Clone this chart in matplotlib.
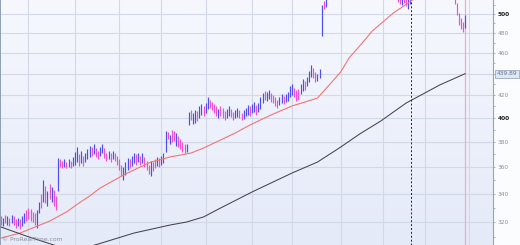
import numpy as np
import matplotlib
matplotlib.use('Agg')
import matplotlib.pyplot as plt
from matplotlib.colors import LinearSegmentedColormap
from matplotlib.ticker import FixedLocator, NullFormatter, FuncFormatter
import matplotlib.transforms as mtransforms

# daily bars: high, low, up(u)/down(d)
highs = [324, 323, 325, 324, 323, 325, 324, 322, 323, 322, 324, 326, 328, 330, 329, 327, 326, 328, 334, 340,
         350, 346, 342, 347, 345, 343, 338, 367, 366, 365, 366, 364, 366, 365, 368, 372, 376, 370, 373, 369,
         371, 374, 377, 376, 378, 375, 373, 376, 378, 375, 371, 373, 371, 373, 371, 369, 366, 362, 360, 364,
         367, 366, 369, 371, 370, 371, 369, 371, 368, 365, 362, 365, 364, 366, 368, 367, 369, 371, 389, 388,
         386, 390, 389, 387, 385, 382, 380, 378, 378, 405, 407, 404, 407, 406, 410, 412, 410, 413, 418, 416,
         414, 412, 410, 408, 410, 409, 406, 408, 410, 408, 405, 407, 409, 407, 404, 407, 409, 411, 410, 412,
         414, 411, 413, 418, 422, 424, 423, 425, 422, 420, 418, 416, 418, 421, 419, 421, 423, 428, 430, 427,
         425, 426, 430, 435, 433, 437, 442, 448, 445, 441, 440, 444, 510, 514, 518, 526, 530, 533, 536, 534,
         538, 541, 539, 542, 545, 543, 540, 543, 546, 544, 541, 538, 540, 543, 541, 538, 535, 537, 534, 531,
         533, 530, 528, 530, 529, 527, 528, 526, 524, 522, 521, 523, 520, 522, 524, 528, 531, 534, 537, 540,
         543, 541, 544, 546, 543, 540, 542, 539, 536, 538, 535, 532, 530, 528, 526, 522, 512, 501, 496, 491,
         499]
lows = [318, 317, 319, 318, 317, 319, 318, 316, 317, 315, 317, 319, 321, 322, 321, 320, 318, 316, 326, 330,
        334, 333, 331, 336, 334, 331, 328, 342, 360, 359, 360, 359, 360, 359, 361, 362, 364, 361, 363, 361,
        364, 366, 368, 369, 370, 368, 366, 369, 371, 367, 365, 366, 364, 366, 365, 362, 358, 353, 350, 354,
        358, 359, 361, 363, 362, 364, 362, 363, 360, 358, 355, 353, 357, 359, 361, 360, 362, 363, 372, 382,
        378, 380, 381, 377, 376, 374, 372, 371, 372, 394, 398, 395, 396, 397, 400, 403, 402, 404, 408, 409,
        407, 404, 402, 400, 402, 400, 398, 400, 402, 401, 398, 400, 401, 400, 398, 399, 402, 403, 402, 404,
        405, 403, 405, 408, 413, 416, 415, 417, 414, 413, 410, 409, 411, 413, 412, 414, 415, 418, 420, 418,
        415, 416, 421, 424, 425, 428, 432, 437, 436, 432, 433, 436, 477, 505, 508, 517, 520, 523, 525, 524,
        527, 530, 529, 531, 533, 532, 530, 531, 534, 533, 530, 527, 528, 531, 530, 527, 524, 525, 523, 521,
        521, 519, 518, 518, 517, 516, 517, 516, 513, 511, 510, 512, 509, 505, 511, 517, 520, 523, 526, 528,
        531, 530, 532, 534, 532, 529, 530, 528, 525, 526, 524, 521, 519, 518, 516, 511, 499, 488, 484, 481,
        485]
direction = ("dudududdud" "uuddddduud"
             "udududdudd" "ududuuudud"
             "uuududduud" "dududdddu" "u"
             "uduudududd" "dudduduuud"
             "uddudddduu" "duuduuduud"
             "ddduddduud" "duudduuudu"
             "uduuuduudd" "dduuduuuud"
             "dduuduuudd" "uuuduuudud"
             "uuduudduud" "dduudddudd"
             "uddudduddd" "udduuuuudu"
             "uduudduddu" "dddudddddd"
             "u")

# moving averages (bar index, value)
red_idx = [0, 9, 15, 23, 31, 37, 42, 47, 53, 59, 65, 71, 75, 80, 85, 90, 96, 104, 111, 118, 123, 128,
           138, 144, 150, 156, 161, 165, 170, 176, 181, 186, 191, 195, 205, 220]
red_val = [309.2, 312.5, 315.9, 320.6, 326.9, 333.3, 338.3, 344.2, 349.4, 354.7, 359.3, 363.9, 365.5,
           367.9, 369.4, 371.0, 375.0, 381.5, 387.3, 394.0, 398.3, 402.6, 410.5, 413.9, 417.5, 430.3,
           441.5, 455.0, 466.8, 482.1, 491.5, 501.1, 508.7, 515.2, 522, 526]
black_idx = [0, 12, 25, 35, 46, 63, 80, 88, 96, 104, 119, 131, 138, 150, 161, 170, 180, 192, 208, 220]
black_val = [316.6, 310.5, 304.6, 300.7, 305.2, 312.5, 317.9, 320.0, 323.5, 329.7, 341.3, 350.2, 355.5,
             363.9, 375.8, 386.5, 397.4, 413.0, 429.4, 439.89]

month_lines = [13, 35, 56, 76, 97, 119, 138, 161, 181, 201, 222]
price_ticks = [320, 340, 360, 380, 400, 420, 440, 460, 480, 500]
last_ma = 439.89

n = len(highs)
idx = np.arange(n)
direction = direction.ljust(n, 'd')[:n]
cols = ['#4d4df0' if c == 'u' else '#f04fcc' for c in direction]

fig = plt.figure(figsize=(5.2, 2.45), dpi=100, facecolor='#fbfcfe')
ax = fig.add_axes([0, 0, 493 / 520, 1])

# background gradient
cmap = LinearSegmentedColormap.from_list('bg', ['#f6f8fe', '#e5eaf8'])
ax.imshow(np.linspace(0, 1, 100).reshape(-1, 1), cmap=cmap, aspect='auto',
          extent=[0, 1, 0, 1], transform=ax.transAxes, zorder=-2)

ax.set_yscale('log')
ax.set_xlim(-0.47, 233.2)
ax.set_ylim(304.6, 515.2)

for m in month_lines:
    ax.axvline(m, color='#d3d8e6', lw=0.8, zorder=-1)
for p in price_ticks:
    ax.axhline(p, color='#d3d8e6', lw=0.8, zorder=-1)

ax.vlines(idx, lows, highs, colors=cols, lw=0.85, zorder=3)

ax.plot(red_idx, red_val, color='#f07575', lw=0.8, zorder=4)
ax.plot(black_idx, black_val, color='#44444f', lw=0.75, zorder=4)

ax.axvline(194.3, color='#222222', lw=0.7, ls=(0, (2, 2)), zorder=5)
ax.axvline(n - 1, color='#f4a8cc', lw=0.9, zorder=2)

# right price axis
ax.yaxis.tick_right()
ax.yaxis.set_major_locator(FixedLocator(price_ticks))
ax.yaxis.set_major_formatter(FuncFormatter(lambda v, p: '' if round(v) == 440 else '%d' % v))
ax.yaxis.set_minor_locator(FixedLocator(np.arange(310, 515, 10)))
ax.yaxis.set_minor_formatter(NullFormatter())
ax.tick_params(axis='y', which='both', direction='out', length=1.6, width=0.6,
               color='#9aa3b5', labelsize=4.2, pad=1.5)
for lab, v in zip(ax.get_yticklabels(), price_ticks):
    if v in (400, 500):
        lab.set_color('#222222')
        lab.set_fontweight('bold')
    else:
        lab.set_color('#8a8f9c')
ax.set_xticks([])

for s in ['top', 'bottom']:
    ax.spines[s].set_visible(False)
ax.spines['left'].set_color('#7f92a8')
ax.spines['left'].set_linewidth(1.2)
ax.spines['right'].set_color('#9aa3b5')
ax.spines['right'].set_linewidth(0.8)

trans = mtransforms.blended_transform_factory(ax.transAxes, ax.transData)
ax.text(1.008, last_ma, '%.2f' % last_ma, transform=trans, fontsize=4.2, color='#6a7488',
        va='center', ha='left', zorder=6, clip_on=False,
        bbox=dict(boxstyle='square,pad=0.25', fc='#dfe7f5', ec='#8d9cb8', lw=0.5))

ax.text(0.004, 0.012, '© ProRealTime.com', transform=ax.transAxes, fontsize=4.3,
        color='#8a8f9a', va='bottom', ha='left', zorder=6)

fig.savefig('out.png', dpi=100, facecolor=fig.get_facecolor())
